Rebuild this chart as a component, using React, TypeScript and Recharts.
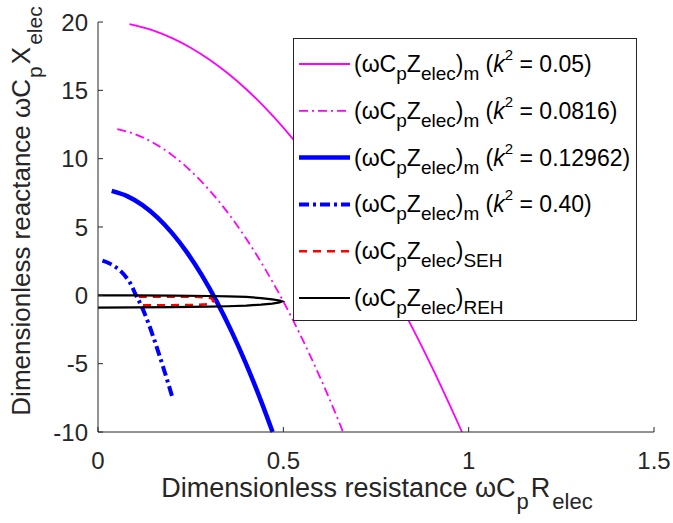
import React from 'react'
import { LineChart, Line, XAxis, YAxis, Legend } from 'recharts'

const X_TICKS = [0, 0.5, 1, 1.5]
const Y_TICKS = [-10, -5, 0, 5, 10, 15, 20]

// [resistance, reactance] pairs
const K005 = [
  [0.085, 19.84], [0.15, 19.37], [0.2, 18.82], [0.25, 18.12], [0.3, 17.26], [0.35, 16.25],
  [0.4, 15.08], [0.45, 13.75], [0.5, 12.27], [0.55, 10.63], [0.6, 8.84], [0.65, 6.89],
  [0.7, 4.78], [0.75, 2.52], [0.8, 0.1], [0.85, -2.47], [0.9, -5.2], [0.95, -8.09], [0.982, -10],
]
const K0816 = [
  [0.052, 12.16], [0.1, 11.79], [0.15, 11.15], [0.2, 10.26], [0.25, 9.11], [0.3, 7.71],
  [0.35, 6.05], [0.4, 4.14], [0.45, 1.97], [0.5, -0.45], [0.55, -3.13], [0.6, -6.06],
  [0.65, -9.25], [0.661, -10],
]
const K12962 = [
  [0.037, 7.64], [0.08, 7.24], [0.12, 6.6], [0.16, 5.7], [0.2, 4.55], [0.24, 3.14],
  [0.28, 1.48], [0.32, -0.44], [0.36, -2.62], [0.4, -5.05], [0.44, -7.74], [0.471, -10],
]
const K040 = [
  [0.012, 2.54], [0.03, 2.35], [0.046, 2.1], [0.062, 1.75], [0.078, 1.25], [0.09, 0.75],
  [0.1, 0.15], [0.118, -0.83], [0.136, -2.04], [0.158, -3.75], [0.181, -5.7], [0.2, -7.4],
]
const SEH = [
  [0.11, -0.1], [0.2, -0.1], [0.26, -0.11], [0.29, -0.14], [0.305, -0.2], [0.312, -0.4],
  [0.305, -0.6], [0.29, -0.66], [0.26, -0.7], [0.2, -0.72], [0.12, -0.73],
]
const REH = [
  [0, 0], [0.1, 0], [0.2, -0.02], [0.3, -0.05], [0.35, -0.08], [0.4, -0.12], [0.44, -0.2],
  [0.47, -0.29], [0.49, -0.38], [0.497, -0.44], [0.49, -0.52], [0.47, -0.6], [0.44, -0.68],
  [0.4, -0.75], [0.35, -0.8], [0.3, -0.83], [0.2, -0.86], [0.1, -0.88], [0, -0.9],
]

const toPoints = (pairs: number[][]) => pairs.map(([x, y]) => ({ x, y }))

const AXIS = '#262626'
const FONT = '"Liberation Sans", Arial, Helvetica, sans-serif'
const MAGENTA = '#ff00ff'
const BLUE = '#0000ff'

const SERIES = [
  { key: 'k005', data: K005, color: MAGENTA, width: 1.8, dash: undefined, sub: 'm', k: '0.05', curve: 'monotone' },
  { key: 'k0816', data: K0816, color: MAGENTA, width: 1.8, dash: '9 4 2 4', sub: 'm', k: '0.0816', curve: 'monotone' },
  { key: 'k12962', data: K12962, color: BLUE, width: 4.5, dash: undefined, sub: 'm', k: '0.12962', curve: 'monotone' },
  { key: 'k040', data: K040, color: BLUE, width: 4, dash: '10 4 3 4', sub: 'm', k: '0.40', curve: 'monotone' },
  { key: 'seh', data: SEH, color: '#ff0000', width: 2.5, dash: '8 6', sub: 'SEH', k: '', curve: 'linear' },
  { key: 'reh', data: REH, color: '#000000', width: 2.2, dash: undefined, sub: 'REH', k: '', curve: 'linear' },
]

function BottomTick({ x, y, payload }: any) {
  return (
    <g>
      <line x1={x} x2={x} y1={y - 20} y2={y - 25} stroke={AXIS} />
      <text x={x} y={y + 17} textAnchor="middle" fontSize={24} fill={AXIS} fontFamily={FONT}>
        {payload.value}
      </text>
    </g>
  )
}

function LeftTick({ x, y, payload }: any) {
  return (
    <g>
      <line x1={x + 10} x2={x + 15} y1={y} y2={y} stroke={AXIS} />
      <text x={x} y={y + 8.5} textAnchor="end" fontSize={24} fill={AXIS} fontFamily={FONT}>
        {payload.value}
      </text>
    </g>
  )
}

function TopTick({ x, y }: any) {
  return <line x1={x} x2={x} y1={y} y2={y + 5} stroke={AXIS} />
}

function RightTick({ x, y }: any) {
  return <line x1={x} x2={x - 5} y1={y} y2={y} stroke={AXIS} />
}

function XLabel() {
  return (
    <text x={377} y={497} textAnchor="middle" fontSize={27} fill={AXIS} fontFamily={FONT}>
      Dimensionless resistance ωC
      <tspan dx={1} dy={12} fontSize={22}>p</tspan>
      <tspan dx={2} dy={-12}>R</tspan>
      <tspan dx={2} dy={12} fontSize={22}>elec</tspan>
    </text>
  )
}

function YLabel() {
  return (
    <text transform="rotate(-90)" x={-211} y={30} textAnchor="middle" fontSize={26} fill={AXIS} fontFamily={FONT}>
      Dimensionless reactance ωC
      <tspan dx={1} dy={12} fontSize={21}>p</tspan>
      <tspan dx={2} dy={-12}>X</tspan>
      <tspan dx={2} dy={12} fontSize={21}>elec</tspan>
    </text>
  )
}

const renderLegend = () => (
  <div style={{ width: 344, height: 283, border: `1px solid ${AXIS}`, background: '#fff', boxSizing: 'border-box' }}>
    <svg width={342} height={281} style={{ display: 'block', overflow: 'visible' }}>
      {SERIES.map((s, i) => {
        const cy = 25 + 46.8 * i
        return (
          <g key={`legend-${s.key}`}>
            <line x1={5} x2={56} y1={cy} y2={cy} stroke={s.color} strokeWidth={s.width} strokeDasharray={s.dash} />
            <text x={60} y={cy + 8} fontSize={23} fill="#000" fontFamily={FONT} style={{ whiteSpace: 'pre' }}>
              (ωC
              <tspan dy={8} fontSize={19}>p</tspan>
              <tspan dy={-8}>Z</tspan>
              <tspan dy={8} fontSize={19}>elec</tspan>
              <tspan dy={-8}>)</tspan>
              <tspan dy={8} fontSize={19}>{s.sub}</tspan>
              {s.k ? (
                <>
                  <tspan dy={-8}> (</tspan>
                  <tspan fontStyle="italic">k</tspan>
                  <tspan dy={-12} fontSize={15}>2</tspan>
                  <tspan dy={12}>{` = ${s.k})`}</tspan>
                </>
              ) : null}
            </text>
          </g>
        )
      })}
    </svg>
  </div>
)

export default function App() {
  return (
    <div style={{ position: 'absolute', left: 0, top: 0, background: '#fff' }}>
      <LineChart width={673} height={523} margin={{ top: 22, right: 19, bottom: 0, left: 0 }}>
        <XAxis
          xAxisId="b"
          dataKey="x"
          type="number"
          domain={[0, 1.5]}
          ticks={X_TICKS}
          height={91}
          tickSize={0}
          tickMargin={20}
          tickLine={false}
          axisLine={{ stroke: AXIS }}
          tick={<BottomTick />}
          label={<XLabel />}
        />
        <XAxis
          xAxisId="t"
          orientation="top"
          dataKey="x"
          type="number"
          domain={[0, 1.5]}
          ticks={X_TICKS}
          height={0}
          tickSize={0}
          tickMargin={0}
          tickLine={false}
          axisLine={{ stroke: AXIS }}
          tick={<TopTick />}
        />
        <YAxis
          yAxisId="l"
          type="number"
          domain={[-10, 20]}
          ticks={Y_TICKS}
          width={98}
          tickSize={0}
          tickMargin={10}
          tickLine={false}
          axisLine={{ stroke: AXIS }}
          tick={<LeftTick />}
          label={<YLabel />}
        />
        <YAxis
          yAxisId="r"
          orientation="right"
          type="number"
          domain={[-10, 20]}
          ticks={Y_TICKS}
          width={0}
          tickSize={0}
          tickMargin={0}
          tickLine={false}
          axisLine={{ stroke: AXIS }}
          tick={<RightTick />}
        />
        {SERIES.map(s => (
          <Line
            key={s.key}
            xAxisId="b"
            yAxisId="l"
            data={toPoints(s.data)}
            dataKey="y"
            type={s.curve as any}
            stroke={s.color}
            strokeWidth={s.width}
            strokeDasharray={s.dash}
            dot={false}
            activeDot={false}
            isAnimationActive={false}
          />
        ))}
        <Legend
          content={renderLegend}
          layout="vertical"
          align="center"
          verticalAlign="middle"
          wrapperStyle={{ left: 293, top: 38, width: 344, height: 283 }}
        />
      </LineChart>
    </div>
  )
}
